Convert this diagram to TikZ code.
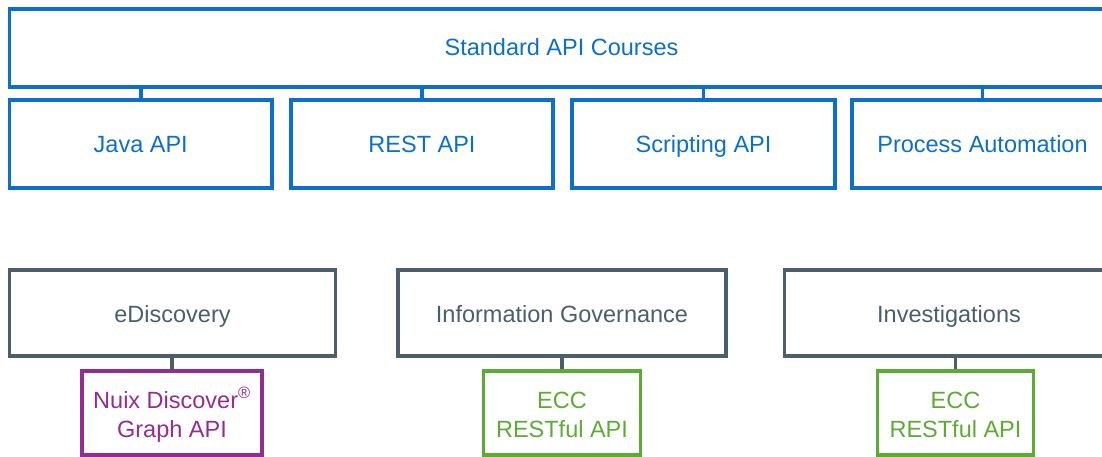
\documentclass[tikz,border=0pt]{standalone}
\usepackage{fontspec}
\setmainfont{Liberation Sans}
\definecolor{cblue}{HTML}{0B6FCB}
\definecolor{cslate}{HTML}{4B5E6C}
\definecolor{cpurple}{HTML}{942C94}
\definecolor{cgreen}{HTML}{5DAA35}
\tikzset{
  box/.style={draw, line width=3.5pt, rectangle, inner sep=0pt, align=center,
    font=\fontsize{23.5}{29}\selectfont},
  oneline/.style={text height=18pt, text depth=0pt},
  twoline/.style={text height=48pt, text depth=0pt},
  bluebox/.style={box, oneline, draw=cblue, text=cblue},
  slatebox/.style={box, oneline, draw=cslate, text=cslate},
  purplebox/.style={box, twoline, draw=cpurple, text=cpurple},
  greenbox/.style={box, twoline, draw=cgreen, text=cgreen},
  link/.style={line width=3.5pt}
}
\begin{document}
\begin{tikzpicture}[x=1pt,y=-1pt]
\useasboundingbox (0,0) rectangle (1102,457);
\clip (0,0) rectangle (1102,457);
% top
\node[bluebox, minimum width=1104pt, minimum height=78pt, text height=16pt] (top) at (561.5,48) {Standard API Courses};
\node[bluebox, minimum width=262.5pt, minimum height=88pt] (java) at (140.75,144) {Java API};
\node[bluebox, minimum width=262pt, minimum height=88pt] (rest) at (422,144) {REST API};
\node[bluebox, minimum width=263pt, minimum height=88pt] (script) at (703.5,144) {Scripting API};
\node[bluebox, minimum width=261pt, minimum height=88pt] (proc) at (982.5,144) {Process Automation};
\foreach \n in {java,rest,script,proc}
  \draw[link, cblue] (\n.north) -- (\n.north |- top.south);
% bottom
\node[slatebox, minimum width=326pt, minimum height=86pt, text height=19pt] (edisc) at (172.5,313) {eDiscovery};
\node[slatebox, minimum width=328pt, minimum height=86pt, text height=19pt] (infog) at (562,313) {Information Governance};
\node[slatebox, minimum width=329pt, minimum height=86pt, text height=19pt] (invest) at (949,313) {Investigations};
\node[purplebox, minimum width=180pt, minimum height=84pt] (nuix) at (172,413) {Nuix Discover\textsuperscript{\textregistered}\\Graph API};
\node[greenbox, minimum width=157pt, minimum height=84pt] (ecc1) at (562,413) {ECC\\RESTful API};
\node[greenbox, minimum width=156pt, minimum height=84pt] (ecc2) at (955.5,413) {ECC\\RESTful API};
\draw[link, cslate] (nuix.north) -- (nuix.north |- edisc.south);
\draw[link, cslate] (ecc1.north) -- (ecc1.north |- infog.south);
\draw[link, cslate] (ecc2.north) -- (ecc2.north |- invest.south);
\end{tikzpicture}
\end{document}
